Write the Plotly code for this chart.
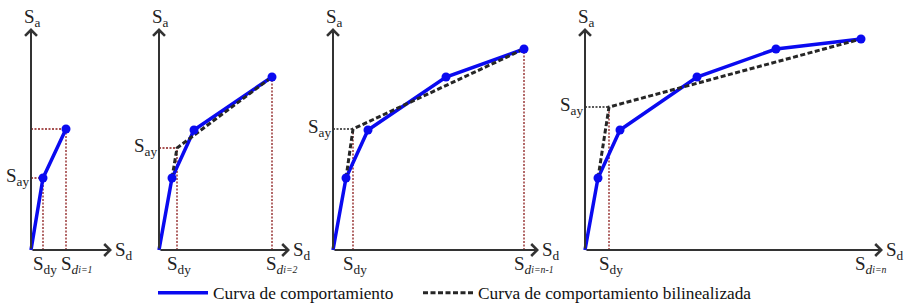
import plotly.graph_objects as go

# ---- data (Sd, Sa values, arbitrary units) ----
sd_p1 = [0, 12, 35]
sa_p1 = [0, 72, 121]
sd_p2 = [0, 13, 35, 113]
sa_p2 = [0, 72, 120, 173]
sd_p3 = [0, 13, 35, 113, 191]
sa_p3 = [0, 72, 120, 173, 201]
sd_p4 = [0, 13, 35, 112, 191, 276]
sa_p4 = [0, 72, 120, 173, 201, 211]

# bilinear curves: first point, yield point (Sdy, Say), last point
sd_bl_p2 = [13, 18, 113]
sa_bl_p2 = [72, 102, 173]
sd_bl_p3 = [13, 20, 191]
sa_bl_p3 = [72, 121, 201]
sd_bl_p4 = [13, 24, 276]
sa_bl_p4 = [72, 143, 211]

last_labels = ["i=1", "i=2", "i=n-1", "i=n"]

# ---- layout constants (pixels) ----
W, H = 913, 305
panel_px = [(0, 140, 31), (140, 310, 159), (310, 570, 333), (570, 913, 585)]  # left, right, origin
x_axis_len = [81, 131, 206, 298]
y_axis_len = 222
y_origin_px = 250

FONT = "Liberation Serif"
BLUE = "#0a0af0"
DARKRED = "#8b1a1a"
AXC = "#333333"

fig = go.Figure()

curves = [(sd_p1, sa_p1), (sd_p2, sa_p2), (sd_p3, sa_p3), (sd_p4, sa_p4)]
bilin = [None, (sd_bl_p2, sa_bl_p2), (sd_bl_p3, sa_bl_p3), (sd_bl_p4, sa_bl_p4)]

annotations = []
layout_axes = {}
GUIDE = dict(width=1.3, dash="2px,1.5px")

for i in range(4):
    xa = "x" if i == 0 else f"x{i+1}"
    ya = "y" if i == 0 else f"y{i+1}"
    sd, sa = curves[i]
    bl = bilin[i]
    if bl is None:
        sdy, say = sd[1], sa[1]
    else:
        sdy, say = bl[0][1], bl[1][1]
    sdl, sal = sd[-1], sa[-1]

    # guide lines
    hcol = DARKRED if i < 2 else "#222222"
    fig.add_trace(go.Scatter(x=[0, sdy], y=[say, say], xaxis=xa, yaxis=ya, mode="lines",
                             line=dict(color=hcol, **GUIDE), showlegend=False, hoverinfo="skip"))
    fig.add_trace(go.Scatter(x=[sdy, sdy], y=[0, say], xaxis=xa, yaxis=ya, mode="lines",
                             line=dict(color=DARKRED, **GUIDE), showlegend=False, hoverinfo="skip"))
    if i == 0:
        fig.add_trace(go.Scatter(x=[0, sdl], y=[sal, sal], xaxis=xa, yaxis=ya, mode="lines",
                                 line=dict(color=DARKRED, **GUIDE), showlegend=False, hoverinfo="skip"))
    if i < 3:
        fig.add_trace(go.Scatter(x=[sdl, sdl], y=[0, sal], xaxis=xa, yaxis=ya, mode="lines",
                                 line=dict(color=DARKRED, **GUIDE), showlegend=False, hoverinfo="skip"))

    # capacity curve
    fig.add_trace(go.Scatter(x=sd, y=sa, xaxis=xa, yaxis=ya, mode="lines",
                             line=dict(color=BLUE, width=3.5),
                             name="Curva de comportamiento", showlegend=(i == 0), legend="legend"))
    if bl is not None:
        fig.add_trace(go.Scatter(x=bl[0], y=bl[1], xaxis=xa, yaxis=ya, mode="lines",
                                 line=dict(color="#262626", width=3, dash="5px,2.5px"),
                                 name="Curva de comportamiento bilinealizada",
                                 showlegend=(i == 1), legend="legend2"))
    fig.add_trace(go.Scatter(x=sd[1:], y=sa[1:], xaxis=xa, yaxis=ya, mode="markers",
                             marker=dict(color=BLUE, size=9), showlegend=False, hoverinfo="skip"))

    # axes with arrows
    annotations.append(dict(x=x_axis_len[i], y=0, ax=0, ay=0, xref=xa, yref=ya, axref=xa, ayref=ya,
                            showarrow=True, arrowhead=4, arrowsize=1.15, arrowwidth=2, arrowcolor=AXC,
                            text=""))
    annotations.append(dict(x=0, y=y_axis_len, ax=0, ay=0, xref=xa, yref=ya, axref=xa, ayref=ya,
                            showarrow=True, arrowhead=4, arrowsize=1.15, arrowwidth=2, arrowcolor=AXC,
                            text=""))
    f = dict(family=FONT, size=19, color="#222222")
    annotations.append(dict(x=0, y=y_axis_len, xref=xa, yref=ya, text="S<sub>a</sub>", showarrow=False,
                            yanchor="bottom", xanchor="center", xshift=1, yshift=-4, font=f))
    annotations.append(dict(x=x_axis_len[i], y=0, xref=xa, yref=ya, text="S<sub>d</sub>", showarrow=False,
                            xanchor="left", yanchor="middle", xshift=1, yshift=-1, font=f))
    annotations.append(dict(x=0, y=say, xref=xa, yref=ya, text="S<sub>ay</sub>", showarrow=False,
                            xanchor="right", yanchor="middle", xshift=0, yshift=1, font=f))
    annotations.append(dict(x=sdy, y=0, xref=xa, yref=ya, text="S<sub>dy</sub>", showarrow=False,
                            xanchor="center", yanchor="top", xshift=2, yshift=-1, font=f))
    annotations.append(dict(x=sdl, y=0, xref=xa, yref=ya,
                            text="S<sub><i>d</i></sub><span style='font-size:14px'><sub><i>" + last_labels[i] + "</i></sub></span>",
                            showarrow=False, xanchor="center", yanchor="top", yshift=-1, xshift=10, font=f))

    left, right, org = panel_px[i]
    axk = "xaxis" if i == 0 else f"xaxis{i+1}"
    ayk = "yaxis" if i == 0 else f"yaxis{i+1}"
    layout_axes[axk] = dict(domain=[left / W, right / W], range=[left - org, right - org],
                            visible=False, fixedrange=True, anchor=ya)
    layout_axes[ayk] = dict(domain=[0, 1], range=[y_origin_px - H, y_origin_px],
                            visible=False, fixedrange=True, anchor=xa)

LEGFONT = dict(family=FONT, size=17.3, color="#111111")
fig.update_layout(
    width=W, height=H,
    margin=dict(l=0, r=0, t=0, b=0, autoexpand=False),
    paper_bgcolor="white", plot_bgcolor="white",
    annotations=annotations,
    showlegend=True,
    legend=dict(orientation="h", x=153 / W, y=12 / H, xref="container", yref="container",
                xanchor="left", yanchor="middle", font=LEGFONT, itemwidth=50,
                bgcolor="rgba(0,0,0,0)"),
    legend2=dict(orientation="h", x=418 / W, y=12 / H, xref="container", yref="container",
                 xanchor="left", yanchor="middle", font=LEGFONT, itemwidth=50,
                 bgcolor="rgba(0,0,0,0)"),
    **layout_axes,
)

fig.write_html("out.html", config={"displayModeBar": False},
               post_script="document.body.style.margin='0';document.body.style.overflow='hidden';")
